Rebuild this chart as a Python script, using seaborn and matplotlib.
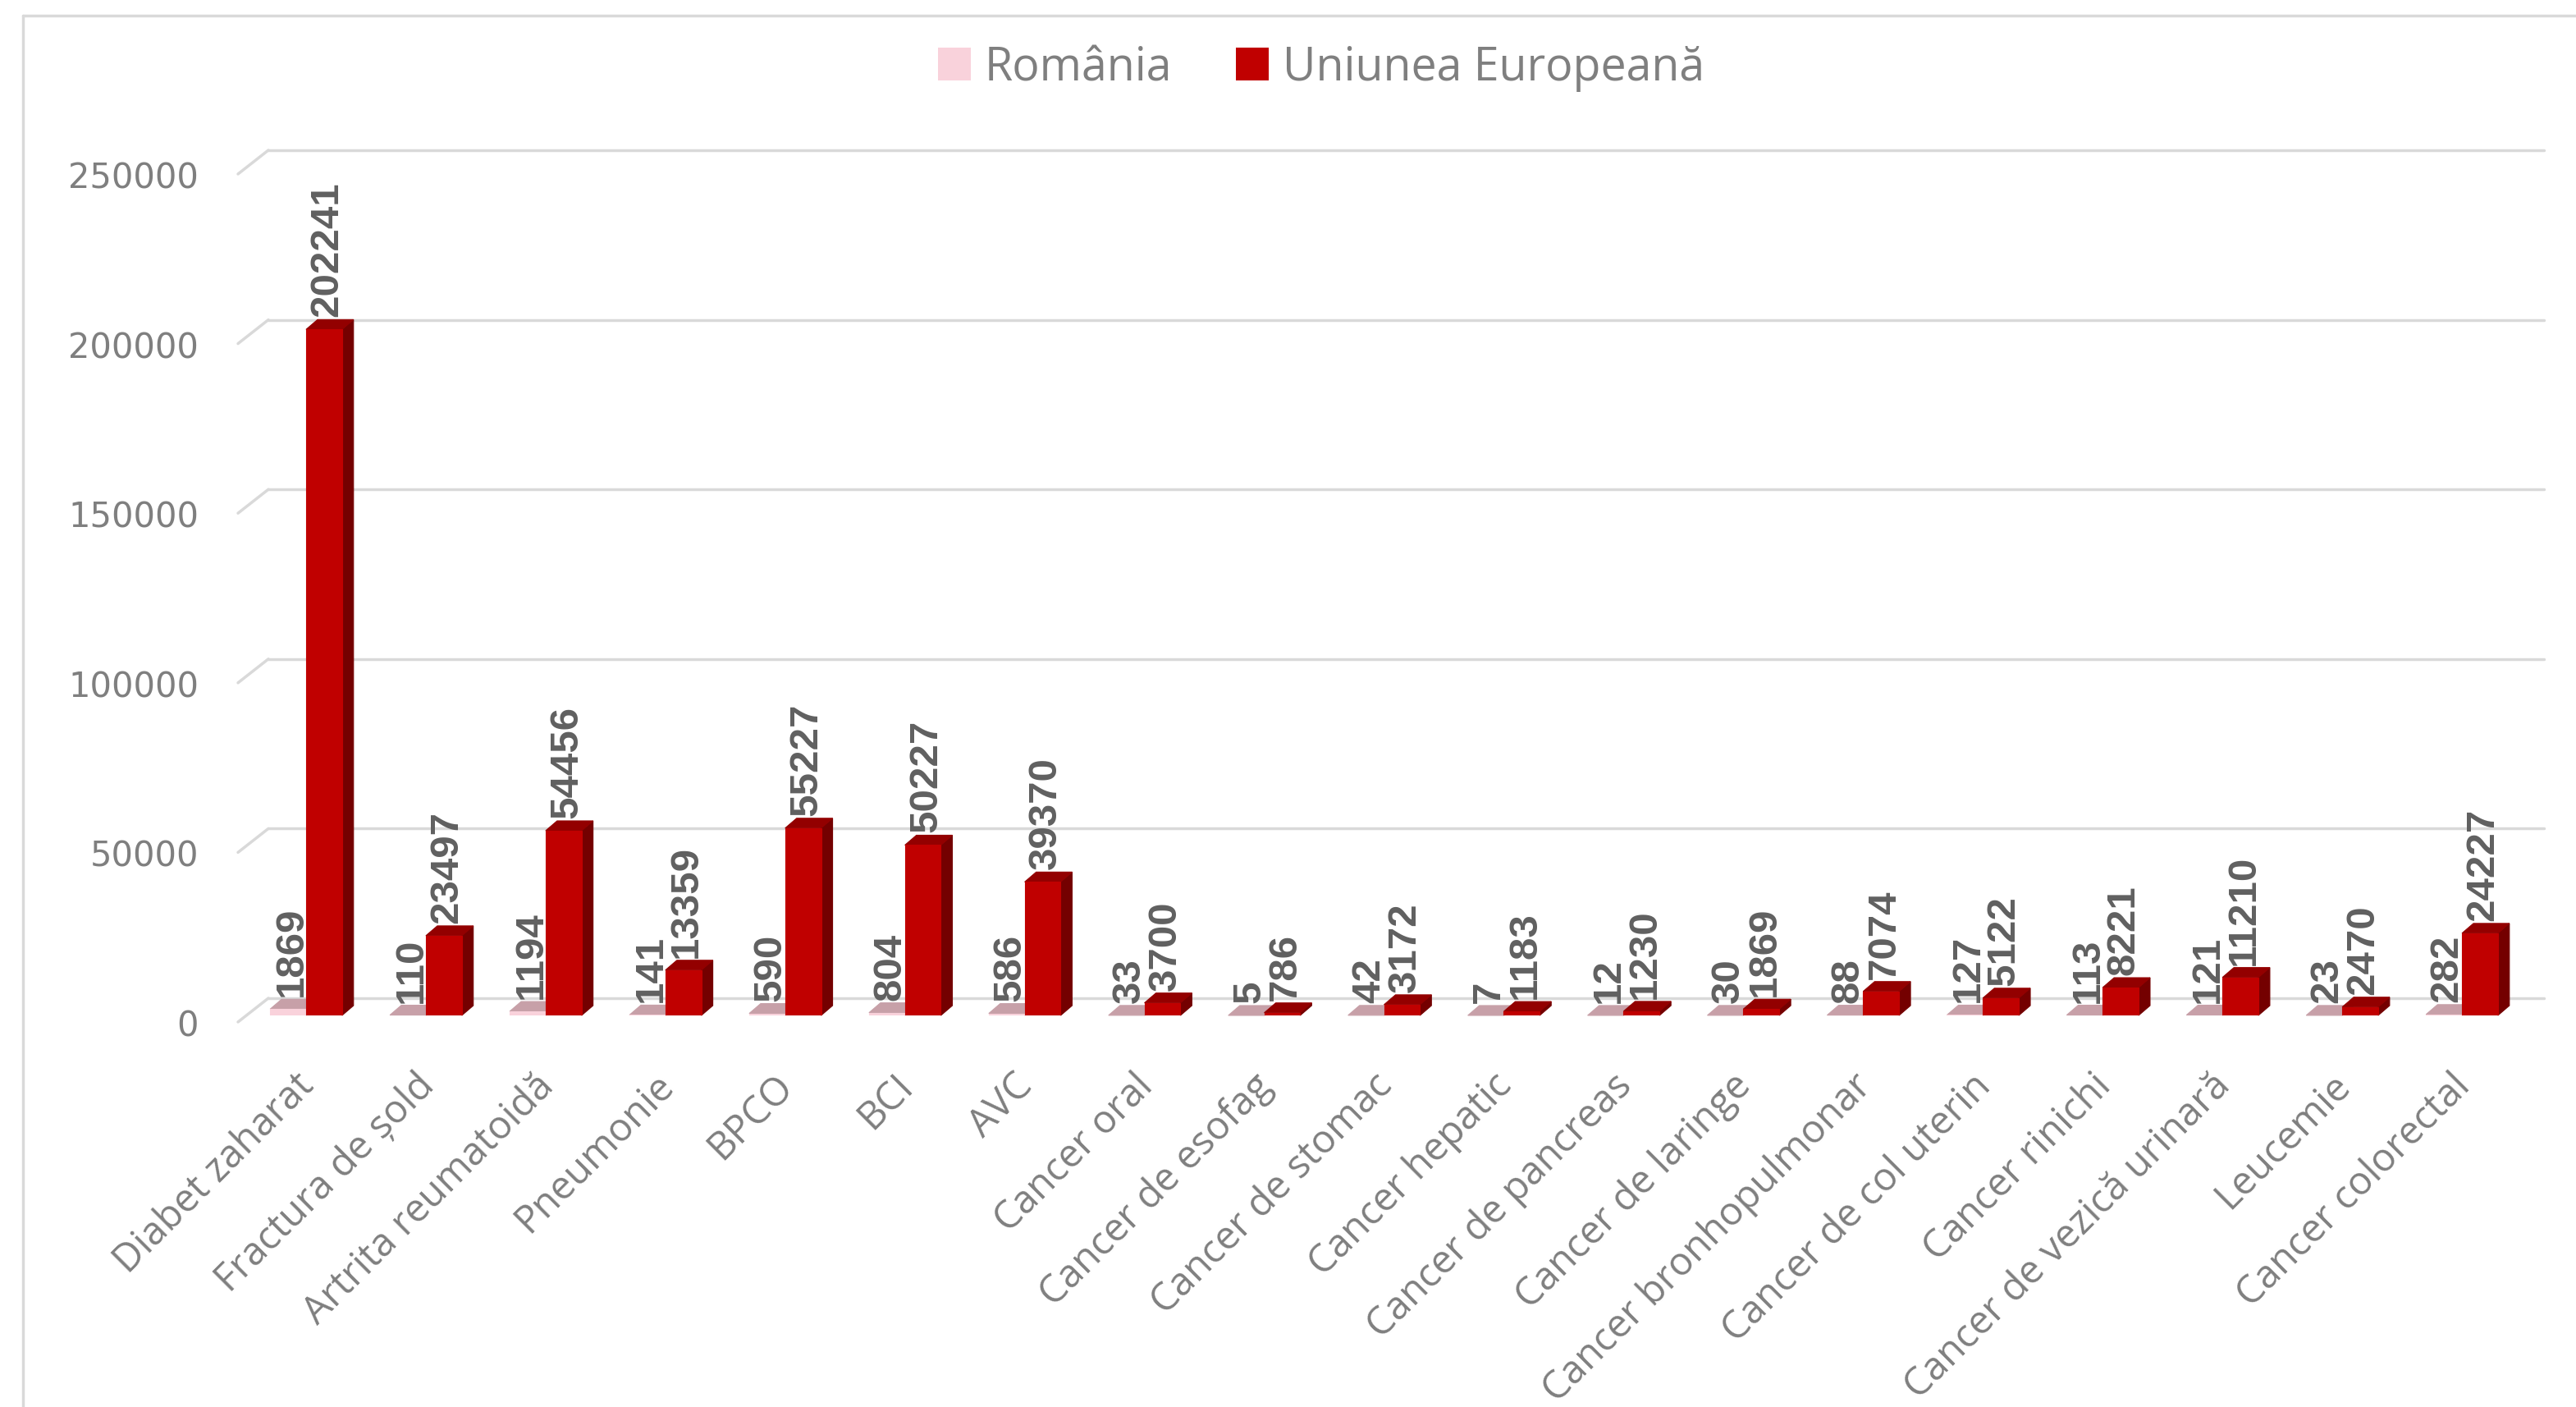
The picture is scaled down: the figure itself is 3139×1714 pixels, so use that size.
import numpy as np
import pandas as pd
import matplotlib
matplotlib.use("Agg")
import matplotlib.pyplot as plt
from matplotlib.patches import Polygon, Patch
from matplotlib.lines import Line2D
from matplotlib.transforms import ScaledTranslation
import seaborn as sns

# ---- data -------------------------------------------------------------
categories = [
    "Diabet zaharat", "Fractura de șold", "Artrita reumatoidă", "Pneumonie",
    "BPCO", "BCI", "AVC", "Cancer oral", "Cancer de esofag", "Cancer de stomac",
    "Cancer hepatic", "Cancer de pancreas", "Cancer de laringe",
    "Cancer bronhopulmonar", "Cancer de col uterin", "Cancer rinichi",
    "Cancer de vezică urinară", "Leucemie", "Cancer colorectal",
]
romania = [1869, 110, 1194, 141, 590, 804, 586, 33, 5, 42, 7, 12, 30, 88,
           127, 113, 121, 23, 282]
uniunea = [202241, 23497, 54456, 13359, 55227, 50227, 39370, 3700, 786, 3172,
           1183, 1230, 1869, 7074, 5122, 8221, 11210, 2470, 24227]
series_names = ["România", "Uniunea Europeană"]
y_ticks = [0, 50000, 100000, 150000, 200000, 250000]

# ---- style ------------------------------------------------------------
PINK_FRONT, PINK_TOP, PINK_SIDE = "#F9D2DB", "#C7A0A8", "#D9B2BA"
RED_FRONT, RED_TOP, RED_SIDE = "#C00000", "#930000", "#740000"
GRID = "#D9D9D9"
TEXT = "#7F7F7F"
LABEL = "#606060"

W, H, DPI = 3139, 1715, 100

sns.set_style("white")
plt.rcParams["font.family"] = ["Open Sans", "DejaVu Sans"]

fig = plt.figure(figsize=(W / DPI, H / DPI), dpi=DPI)
fig.patch.set_facecolor("white")

# plotting box = plane of the bar fronts (pixel bounds)
L, R, T, B = 300, 3073, 205, 1238
ax = fig.add_axes([L / W, 1 - B / H, (R - L) / W, (B - T) / H])
ax.set_facecolor("none")

n = len(categories)
df = pd.DataFrame({
    "Boala": categories * 2,
    "Cazuri": romania + uniunea,
    "Tara": [series_names[0]] * n + [series_names[1]] * n,
})
sns.barplot(data=df, x="Boala", y="Cazuri", hue="Tara", order=categories,
            hue_order=series_names, palette=[PINK_FRONT, RED_FRONT],
            width=0.6, gap=0, saturation=1, legend=False, linewidth=0, ax=ax)
ax.set_xlim(-0.5, n - 0.5)
ax.set_ylim(0, y_ticks[-1])
for s in ax.spines.values():
    s.set_visible(False)

# pixel -> data unit conversion for the oblique depth of the 3D look
ux = (R - L) / n
uy = (B - T) / y_ticks[-1]


def depth(dx_px, dy_px):
    return dx_px / ux, dy_px / uy


bar_dx, bar_dy = depth(14, 12)
back_dx, back_dy = depth(27, 21)
front_dx, front_dy = depth(-10, -8)

# back wall gridlines and left side-wall lines
for t in y_ticks:
    ax.plot([-0.5 + front_dx, -0.5 + back_dx], [t + front_dy, t + back_dy],
            color=GRID, lw=2.5, clip_on=False, zorder=0)
    ax.plot([-0.5 + back_dx, n - 0.5 + back_dx], [t + back_dy, t + back_dy],
            color=GRID, lw=2.5, clip_on=False, zorder=0)

# 3D faces and value labels for every bar
for p in list(ax.patches):
    x0, w, h = p.get_x(), p.get_width(), p.get_height()
    xc = x0 + w / 2
    i = int(round(xc + 0.01))
    is_ro = xc < i
    value = romania[i] if is_ro else uniunea[i]
    front, top, side = ((PINK_FRONT, PINK_TOP, PINK_SIDE) if is_ro
                        else (RED_FRONT, RED_TOP, RED_SIDE))
    z = 2 if is_ro else 3
    p.set_zorder(z + 0.2)
    p.set_edgecolor(front)
    p.set_linewidth(0.8)
    side_poly = Polygon([(x0 + w, 0), (x0 + w + bar_dx, bar_dy),
                         (x0 + w + bar_dx, h + bar_dy), (x0 + w, h)],
                        closed=True, facecolor=side, edgecolor=side, lw=0.8,
                        zorder=z, clip_on=False)
    top_poly = Polygon([(x0, h), (x0 + bar_dx, h + bar_dy),
                        (x0 + w + bar_dx, h + bar_dy), (x0 + w, h)],
                       closed=True, facecolor=top, edgecolor=top, lw=0.8,
                       zorder=z + 0.1, clip_on=False)
    ax.add_patch(side_poly)
    ax.add_patch(top_poly)
    ax.annotate(f"{value}", xy=(xc, value), xytext=(4 * 0.72, 16 * 0.72),
                textcoords="offset points", rotation=90, ha="center",
                va="bottom", fontsize=35.5, fontweight="bold",
                family=["Liberation Sans", "DejaVu Sans"],
                color=LABEL, zorder=5, annotation_clip=False)

# y axis labels on the front plane
ax.set_yticks(y_ticks)
ax.set_yticklabels([str(t) for t in y_ticks], fontsize=30, color=TEXT,
                   family=["DejaVu Sans"])
ax.tick_params(axis="y", length=0, pad=(L - 242) * 72 / DPI)
yshift = ScaledTranslation(0, -8 / DPI, fig.dpi_scale_trans)
for lbl in ax.get_yticklabels():
    lbl.set_transform(lbl.get_transform() + yshift)

# category labels, hung from the front edge of the floor
ax.set_xticks(range(n))
ax.set_xticklabels(categories, fontsize=34, color=TEXT, rotation=45,
                   ha="right", rotation_mode="anchor")
ax.tick_params(axis="x", length=0, pad=44)
xshift = ScaledTranslation(-14 / DPI, 0, fig.dpi_scale_trans)
for lbl in ax.get_xticklabels():
    lbl.set_transform(lbl.get_transform() + xshift)
ax.set_xlabel("")
ax.set_ylabel("")

# legend
handles = [Patch(facecolor=PINK_FRONT, edgecolor="none"),
           Patch(facecolor=RED_FRONT, edgecolor="none")]
fig.legend(handles, series_names, loc="center",
           bbox_to_anchor=(1610 / W, 1 - 84 / H), ncol=2, frameon=False,
           fontsize=40, handlelength=0.72, handleheight=0.72,
           handletextpad=0.3, columnspacing=1.4, labelcolor=TEXT)

# chart area border
fig.add_artist(Line2D([28 / W, 28 / W], [0, 1 - 20 / H], color=GRID, lw=2.5,
                      transform=fig.transFigure))
fig.add_artist(Line2D([28 / W, 1], [1 - 20 / H, 1 - 20 / H], color=GRID,
                      lw=2.5, transform=fig.transFigure))

fig.savefig("out.png", dpi=DPI, facecolor="white")
